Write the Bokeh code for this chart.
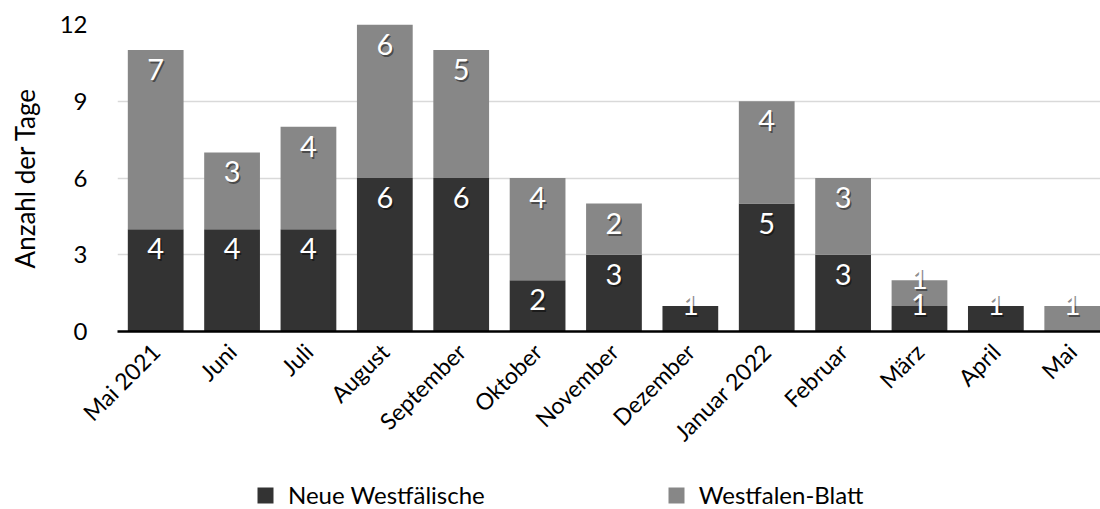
import math
from bokeh.plotting import figure
from bokeh.layouts import column
from bokeh.models import ColumnDataSource, Legend, LegendItem, FixedTicker, Range1d
from bokeh.core.properties import value
from bokeh.embed import file_html
from bokeh.resources import INLINE

# Monthly counts of days per newspaper
months = ["Mai 2021", "Juni", "Juli", "August", "September", "Oktober", "November",
          "Dezember", "Januar 2022", "Februar", "März", "April", "Mai"]
neue_westfaelische = [4, 4, 4, 6, 6, 2, 3, 1, 5, 3, 1, 1, 0]
westfalen_blatt = [7, 3, 4, 6, 5, 4, 2, 0, 4, 3, 1, 0, 1]
series_names = ["Neue Westfälische", "Westfalen-Blatt"]
y_ticks = [0, 3, 6, 9, 12]

FONT = "Lato"
DARK = "#333333"
LIGHT = "#878787"

idx = list(range(len(months)))
src = ColumnDataSource(dict(x=idx, nw=neue_westfaelische, wb=westfalen_blatt))

p = figure(frame_width=983, frame_height=307, output_backend="svg", toolbar_location=None,
           x_range=Range1d(-0.5, 12.37), y_range=Range1d(0, 12),
           min_border_left=117, min_border_right=0, min_border_top=24,
           min_border_bottom=130)
p.outline_line_color = None

p.vbar_stack(["nw", "wb"], x="x", width=0.73, source=src,
             color=[DARK, LIGHT], line_color=None)

# segment value labels, placed at the inner top of each segment
lx, ly, lt, loff = [], [], [], []
for i in idx:
    base = 0
    for v in (neue_westfaelische[i], westfalen_blatt[i]):
        if v > 0:
            lx.append(i)
            ly.append(base + v)
            lt.append(str(v))
            loff.append(9 if v > 1 else -12)
        base += v
lab = ColumnDataSource(dict(x=lx, y=ly, t=lt, off=loff,
                            soff=[o + 2 for o in loff]))
p.text(x="x", y="y", text="t", source=lab, x_offset=1.5, y_offset="soff",
       text_align="center", text_baseline="top", text_color="black", text_alpha=0.45,
       text_font=value(FONT), text_font_size="29px")
p.text(x="x", y="y", text="t", source=lab, y_offset="off",
       text_align="center", text_baseline="top", text_color="white",
       text_font=value(FONT), text_font_size="29px")

# axes
p.yaxis.ticker = FixedTicker(ticks=y_ticks)
p.yaxis.axis_line_color = None
p.yaxis.major_tick_line_color = None
p.yaxis.minor_tick_line_color = None
p.yaxis.major_label_standoff = 24
p.yaxis.major_label_text_font = FONT
p.yaxis.major_label_text_font_size = "24px"
p.yaxis.major_label_text_color = "black"
p.yaxis.axis_label = "Anzahl der Tage"
p.yaxis.axis_label_text_font = FONT
p.yaxis.axis_label_text_font_style = "normal"
p.yaxis.axis_label_text_font_size = "26px"
p.yaxis.axis_label_text_color = "black"
p.yaxis.axis_label_standoff = 16

p.xaxis.ticker = FixedTicker(ticks=idx)
p.xaxis.major_label_overrides = {i: m for i, m in zip(idx, months)}
p.xaxis.major_label_orientation = math.pi / 4
p.xaxis.axis_line_color = "black"
p.xaxis.axis_line_width = 2.5
p.xaxis.major_tick_line_color = None
p.xaxis.minor_tick_line_color = None
p.xaxis.major_label_standoff = 10
p.xaxis.major_label_text_font = FONT
p.xaxis.major_label_text_font_size = "23px"
p.xaxis.major_label_text_color = "black"

p.xgrid.grid_line_color = None
p.ygrid.ticker = FixedTicker(ticks=y_ticks[1:])
p.ygrid.grid_line_color = "#d9d9d9"
p.ygrid.grid_line_width = 1.5

# legend strip underneath the chart; its swatch renderers carry the series
# totals but stay hidden, only their legend entries are shown
leg_fig = figure(width=1100, height=48, output_backend="svg", toolbar_location=None,
                 x_range=Range1d(0, 1), y_range=Range1d(0, 1),
                 x_axis_location=None, y_axis_location=None, min_border=0)
leg_fig.outline_line_color = None
leg_fig.grid.visible = False
swatches = []
for series, c in zip((neue_westfaelische, westfalen_blatt), (DARK, LIGHT)):
    r = leg_fig.vbar(x=[0.5], top=[sum(series)], width=1, color=c, line_color=None)
    r.visible = False
    swatches.append(r)
legend = Legend(items=[LegendItem(label=n, renderers=[r])
                       for n, r in zip(series_names, swatches)],
                orientation="horizontal", location=(138, 0),
                spacing=181, label_standoff=13, glyph_width=20, glyph_height=20,
                label_text_font=FONT, label_text_font_size="24px",
                label_text_color="black", label_height=20,
                inactive_fill_alpha=0,
                border_line_color=None, background_fill_alpha=0, margin=0, padding=0)
leg_fig.add_layout(legend, "center")

open("out.html", "w").write(file_html(column(p, leg_fig, spacing=0), INLINE))
